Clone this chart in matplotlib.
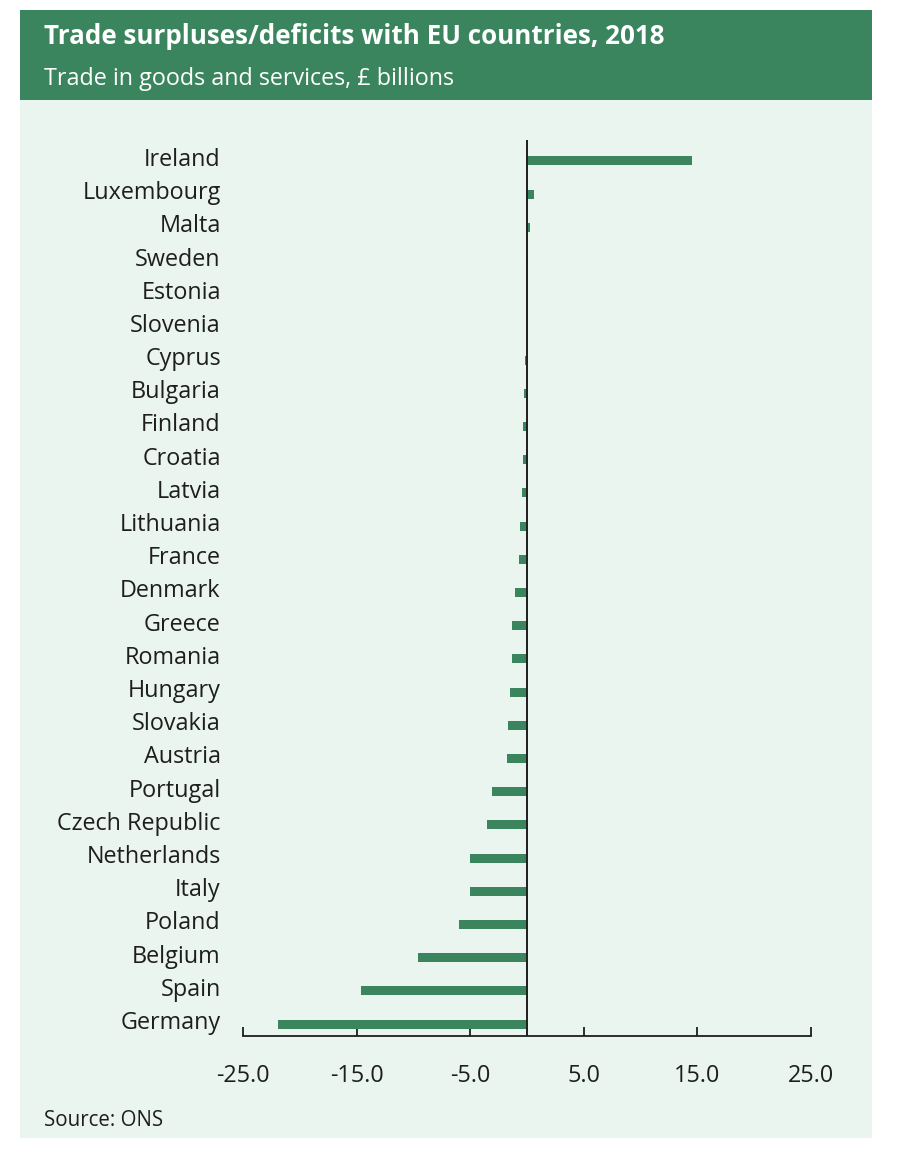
import matplotlib
matplotlib.use('Agg')
import matplotlib.pyplot as plt
import matplotlib.transforms as mtransforms
from matplotlib.patches import Rectangle

countries = ['Ireland', 'Luxembourg', 'Malta', 'Sweden', 'Estonia', 'Slovenia',
             'Cyprus', 'Bulgaria', 'Finland', 'Croatia', 'Latvia', 'Lithuania',
             'France', 'Denmark', 'Greece', 'Romania', 'Hungary', 'Slovakia',
             'Austria', 'Portugal', 'Czech Republic', 'Netherlands', 'Italy',
             'Poland', 'Belgium', 'Spain', 'Germany']
balance = [14.5, 0.6, 0.3, 0.05, 0.0, -0.03,
           -0.17, -0.23, -0.35, -0.38, -0.44, -0.58,
           -0.7, -1.1, -1.3, -1.35, -1.47, -1.7,
           -1.8, -3.05, -3.55, -5.05, -5.05,
           -6.0, -9.6, -14.6, -21.9]
xticks = [-25, -15, -5, 5, 15, 25]

green = '#3a855d'
panel = '#ebf5ef'
ink = '#1e1e1e'

plt.rcParams['font.family'] = ['Open Sans', 'DejaVu Sans']

W, H = 897, 1152
fig = plt.figure(figsize=(W / 100, H / 100), dpi=100)
fig.patch.set_facecolor('white')

def fx(px):
    return px / W

def fy(py):
    return 1 - py / H

# background panel and header band
fig.patches.append(Rectangle((fx(20), fy(1138)), fx(852), (1138 - 100) / H,
                             transform=fig.transFigure, facecolor=panel,
                             edgecolor='none', zorder=-2))
fig.patches.append(Rectangle((fx(20), fy(100)), fx(852), (100 - 10) / H,
                             transform=fig.transFigure, facecolor=green,
                             edgecolor='none', zorder=-2))
fig.text(fx(44), fy(36), 'Trade surpluses/deficits with EU countries, 2018',
         color='white', fontsize=18.7, fontweight='bold', va='center', ha='left')
fig.text(fx(44), fy(79), 'Trade in goods and services, £ billions',
         color='white', fontsize=16.8, va='center', ha='left')
fig.text(fx(44), fy(1121), 'Source: ONS', color=ink, fontsize=14.8,
         va='center', ha='left')

ax = fig.add_axes([fx(243), fy(1036), fx(811) - fx(243), (1036 - 140) / H])
ax.set_zorder(2)
ax.set_facecolor('none')
ypos = range(len(countries))
ax.barh(ypos, balance, height=0.27, color=green, zorder=2)
ax.axvline(0, color=ink, lw=1.4, zorder=3)

ax.set_xlim(-25, 25)
ax.set_ylim(len(countries) - 1 + 0.36, -0.63)
ax.set_yticks(list(ypos))
ax.set_yticklabels(countries)
ax.set_xticks(xticks)
ax.set_xticklabels([f'{v:.1f}' for v in xticks])

for s in ['top', 'right', 'left']:
    ax.spines[s].set_visible(False)
ax.spines['bottom'].set_color(ink)
ax.spines['bottom'].set_linewidth(1.3)

ax.tick_params(axis='y', length=0, pad=16, labelsize=16.8, labelcolor=ink)
ax.tick_params(axis='x', direction='in', length=6.5, width=1.3, color=ink,
               pad=20, labelsize=16.8, labelcolor=ink)

# country names sit a little above the bar centre
shift = mtransforms.ScaledTranslation(0, 4 / 100, fig.dpi_scale_trans)
for lab in ax.get_yticklabels():
    lab.set_transform(lab.get_transform() + shift)

fig.savefig('out.png', dpi=100)
